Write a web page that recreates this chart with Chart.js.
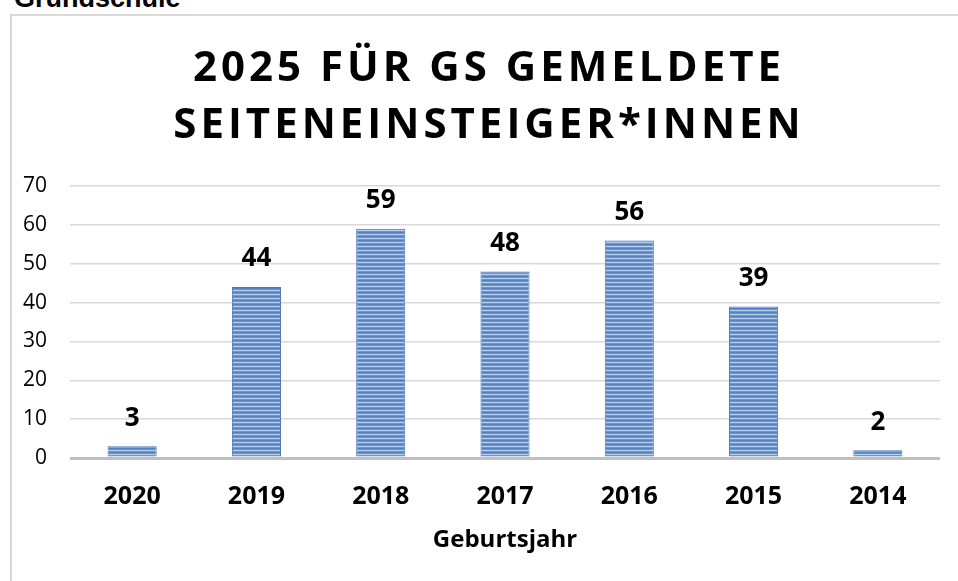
<!DOCTYPE html>
<html>
<head>
<meta charset="utf-8">
<script src="https://cdn.jsdelivr.net/npm/chart.js@4"></script>
<style>
  body { margin: 0; background: #fff; overflow: hidden; }
  #wrap { position: relative; width: 958px; height: 581px; }
  #heading {
    position: absolute; left: 14px; top: -12px; margin: 0;
    font: bold 27px "Liberation Sans", Arial, sans-serif; line-height: 20px;
  }
  #frame {
    position: absolute; left: 10px; top: 14px; width: 960px; height: 600px;
    border-top: 2px solid #d9d9d9; border-left: 2px solid #d9d9d9;
  }
  #title {
    position: absolute; left: 10px; width: 950px; top: 36px;
    text-align: center; font: bold 42px "Open Sans", sans-serif;
    letter-spacing: 4px; padding-left: 4px; line-height: 57px; color: #000;
  }
  canvas { position: absolute; left: 0; top: 0; }
</style>
</head>
<body>
<div id="wrap">
  <div id="heading">Grundschule</div>
  <div id="frame"></div>
  <canvas id="chart" width="958" height="581"></canvas>
  <div id="title">2025 FÜR GS GEMELDETE<br>SEITENEINSTEIGER*INNEN</div>
</div>
<script>
const years = ["2020", "2019", "2018", "2017", "2016", "2015", "2014"];
const counts = [3, 44, 59, 48, 56, 39, 2];
const yTicks = [0, 10, 20, 30, 40, 50, 60, 70];

// striped bar fill like the original
function stripePattern() {
  const c = document.createElement("canvas");
  c.width = 1;
  c.height = 4;
  const g = c.getContext("2d");
  const rows = ["#4f81c3", "#6b95d0", "#b9cdea", "#6b95d0"];
  rows.forEach((col, i) => {
    g.fillStyle = col;
    g.fillRect(0, i, 1, 1);
  });
  return g.createPattern(c, "repeat");
}

const valueLabels = {
  id: "valueLabels",
  afterDatasetsDraw(chart) {
    const ctx = chart.ctx;
    const meta = chart.getDatasetMeta(0);
    ctx.save();
    ctx.font = "bold 26px 'Open Sans', sans-serif";
    ctx.fillStyle = "#000";
    ctx.textAlign = "center";
    ctx.textBaseline = "middle";
    meta.data.forEach((bar, i) => {
      ctx.fillText(String(counts[i]), bar.x, bar.y - 28);
    });
    ctx.restore();
  },
};

const ctx = document.getElementById("chart").getContext("2d");
new Chart(ctx, {
  type: "bar",
  data: {
    labels: years,
    datasets: [
      {
        data: counts,
        backgroundColor: stripePattern(),
        borderColor: "#4a78b8",
        borderWidth: 1,
        categoryPercentage: 1,
        barPercentage: 0.395,
      },
    ],
  },
  options: {
    responsive: false,
    animation: false,
    layout: { padding: { left: 0, right: 18, top: 186, bottom: 0 } },
    plugins: { legend: { display: false }, tooltip: { enabled: false } },
    scales: {
      x: {
        grid: { display: false },
        border: { display: false },
        ticks: {
          color: "#000",
          padding: 16,
          font: { family: "Open Sans", size: 25, weight: "bold" },
        },
        title: {
          display: true,
          text: "Geburtsjahr",
          color: "#000",
          padding: { top: 0, bottom: 26 },
          font: { family: "Open Sans", size: 24, weight: "bold" },
        },
        afterFit: (scale) => { scale.height = 123; },
      },
      y: {
        min: 0,
        max: 70,
        afterBuildTicks: (scale) => {
          scale.ticks = yTicks.map((v) => ({ value: v }));
        },
        border: { display: false },
        grid: {
          drawTicks: false,
          color: (c) => (c.tick && c.tick.value === 0 ? "#bfbfbf" : "#d9d9d9"),
          lineWidth: (c) => (c.tick && c.tick.value === 0 ? 3 : 1.5),
        },
        ticks: {
          color: "#000",
          padding: 23,
          font: { family: "Open Sans", size: 21 },
        },
        afterFit: (scale) => { scale.width = 70; },
      },
    },
  },
  plugins: [valueLabels],
});
</script>
</body>
</html>
